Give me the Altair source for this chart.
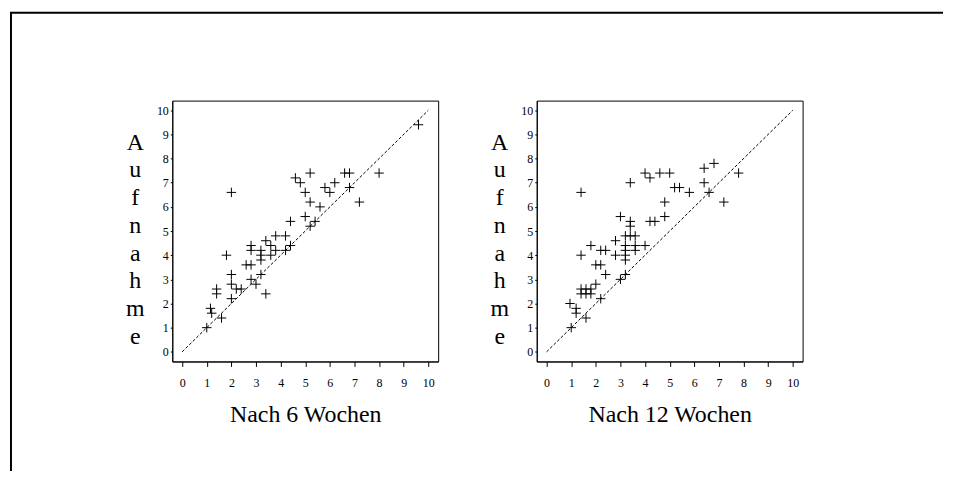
import altair as alt
import pandas as pd

# Panel 1: Nach 6 Wochen (x) vs Aufnahme (y)
x6 = [1.0, 1.15, 1.2, 1.6, 1.4, 1.4, 2.0, 1.8, 2.0, 2.0, 2.0, 2.2, 2.4, 2.6, 2.8, 2.8, 2.8, 2.8, 3.0,
      3.2, 3.2, 3.2, 3.2, 3.4, 3.4, 3.6, 3.6, 3.8, 3.8, 4.2, 4.2, 4.4, 4.4, 4.6, 4.8, 5.0, 5.0, 5.2,
      5.2, 5.2, 5.4, 5.6, 5.8, 6.0, 6.2, 6.6, 6.8, 6.8, 7.2, 8.0, 9.6]
y6 = [1.0, 1.8, 1.6, 1.4, 2.6, 2.4, 2.2, 4.0, 6.6, 3.2, 2.8, 2.6, 2.6, 3.6, 3.6, 4.4, 4.2, 3.0, 2.8,
      4.2, 4.0, 3.8, 3.2, 2.4, 4.6, 4.4, 4.0, 4.2, 4.8, 4.8, 4.2, 4.4, 5.4, 7.2, 7.0, 6.6, 5.6, 7.4,
      6.2, 5.2, 5.4, 6.0, 6.8, 6.6, 7.0, 7.4, 7.4, 6.8, 6.2, 7.4, 9.4]

# Panel 2: Nach 12 Wochen (x) vs Aufnahme (y)
x12 = [0.95, 1.0, 1.2, 1.2, 1.6, 1.4, 1.4, 1.4, 1.4, 1.6, 1.6, 1.8, 1.8, 1.8, 2.0, 2.2, 2.0, 2.2,
       2.2, 2.4, 2.4, 2.8, 2.8, 3.0, 3.0, 3.2, 3.2, 3.2, 3.2, 3.2, 3.2, 3.4, 3.6, 3.4, 3.4, 3.4,
       3.6, 3.6, 4.0, 4.0, 4.2, 4.2, 4.4, 4.6, 4.8, 4.8, 5.0, 5.2, 5.4, 5.8, 6.4, 6.4, 6.6, 6.8,
       7.2, 7.8]
y12 = [2.0, 1.0, 1.8, 1.6, 1.4, 6.6, 4.0, 2.6, 2.4, 2.6, 2.4, 2.6, 2.4, 4.4, 3.6, 3.6, 2.8, 2.2,
       4.2, 4.2, 3.2, 4.6, 4.0, 3.0, 5.6, 4.8, 4.4, 4.2, 4.0, 3.8, 3.2, 4.8, 4.8, 7.0, 5.4, 5.2,
       4.4, 4.2, 7.4, 4.4, 7.2, 5.4, 5.4, 7.4, 6.2, 5.6, 7.4, 6.8, 6.8, 6.6, 7.6, 7.0, 6.6, 7.8,
       6.2, 7.4]

diag_x = [0, 10]
diag_y = [0, 10]
ticks = list(range(11))
x_titles = ["Nach 6 Wochen", "Nach 12 Wochen"]
y_title = list("Aufnahme")

FONT = "Liberation Serif"
PLUS = "M-1,0H1M0,-1V1"


def panel(xs, ys, xtitle, frame=False):
    pts = pd.DataFrame({"x": xs, "y": ys})
    dg = pd.DataFrame({"x": diag_x, "y": diag_y})
    sc = alt.Scale(domain=[-0.4, 10.4], nice=False, zero=False)
    xaxis = alt.Axis(values=ticks, title=xtitle, grid=False, tickSize=5, labelPadding=20,
                     labelOverlap=False, labelFlush=False, labelSeparation=0,
                     labelBaseline="alphabetic", titleY=60, titleBaseline="alphabetic")
    yaxis = alt.Axis(values=ticks, title=y_title, grid=False, tickSize=2, labelPadding=2,
                     labelOverlap=False, labelFlush=False, labelSeparation=0,
                     titleAngle=0, titleAlign="center", titleBaseline="alphabetic",
                     titleX=-37.7, titleY=48.7, titleLineHeight=27.9)
    X = alt.X("x:Q", scale=sc, axis=xaxis)
    Y = alt.Y("y:Q", scale=sc, axis=yaxis)
    diag = alt.Chart(dg).mark_line(color="black", strokeWidth=1, strokeDash=[3, 2]).encode(
        x=X, y=Y)
    pt = alt.Chart(pts).mark_point(shape=PLUS, size=90, filled=False, color="black",
                                   strokeWidth=1, opacity=1).encode(x=X, y=Y)
    layers = [diag, pt]
    if frame:
        one = pd.DataFrame({"a": [0]})
        left = alt.Chart(one).mark_rule(color="black", strokeWidth=2).encode(
            x=alt.value(-162), y=alt.value(-88.3), y2=alt.value(372))
        top = alt.Chart(one).mark_rule(color="black", strokeWidth=2).encode(
            x=alt.value(-163), x2=alt.value(774), y=alt.value(-88.3))
        layers += [left, top]
    return alt.layer(*layers).properties(width=267, height=262)


p1 = panel(x6, y6, x_titles[0], frame=True)
p2 = panel(x12, y12, x_titles[1])

chart = alt.hconcat(p1, p2, spacing=99, bounds="flush").properties(
    padding={"left": 0, "top": 2, "right": 0, "bottom": 0}
).configure_view(stroke="black", strokeWidth=1).configure_axis(
    labelFont=FONT, labelFontSize=12, labelColor="black", labelOverlap=False,
    titleFont=FONT, titleFontSize=24, titleFontWeight="normal", titleColor="black",
    domainColor="black", tickColor="black", domainWidth=1, tickWidth=1
)

chart.save("out.html", embed_options={"renderer": "svg", "actions": False})
